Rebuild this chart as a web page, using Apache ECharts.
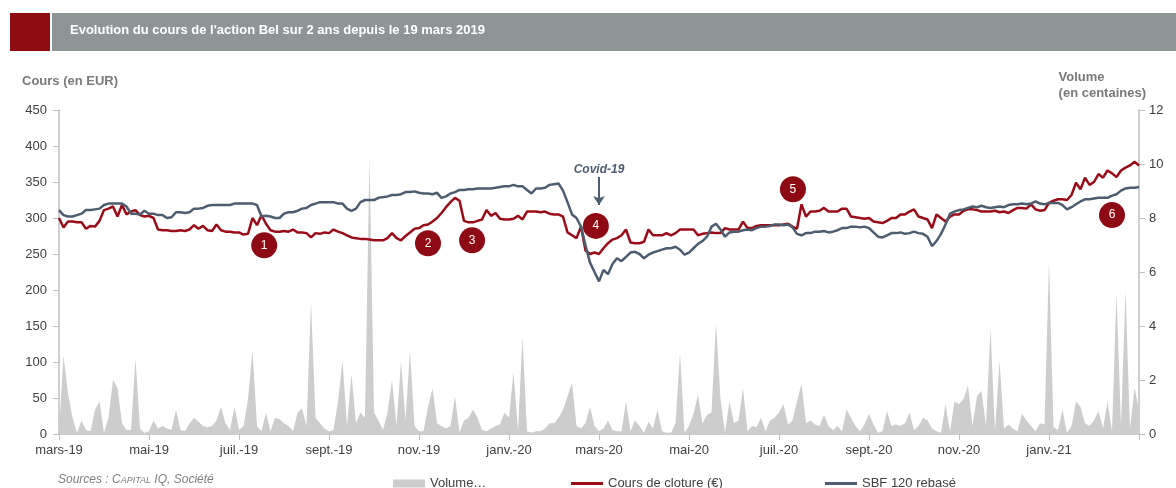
<!DOCTYPE html>
<html lang="fr">
  <head>
    <meta charset="UTF-8" />
    <title>Bel - cours</title>
    <script src="https://cdn.jsdelivr.net/npm/echarts@6/dist/echarts.min.js"></script>
    <style>
      body { margin: 0; background: #fff; }
    </style>
  </head>
  <body>
    <div id="main" style="width: 1176px; height: 488px"></div>
    <script type="text/javascript">
      // x = période (10 points par mois, 19 mars 2019 -> 19 mars 2021)
      const tickLabels = ["mars-19", "mai-19", "juil.-19", "sept.-19", "nov.-19", "janv.-20",
        "mars-20", "mai-20", "juil.-20", "sept.-20", "nov.-20", "janv.-21"];

      // Cours de cloture (€)
      const cours = [
        300,287,295,295,294,294,285,289,288,296, 311,313,316,302,318,305,309,311,304,302,
        303,300,284,283,283,282,282,283,282,284, 290,285,289,283,282,291,283,281,281,280,
        280,277,278,300,290,304,292,283,281,281, 282,281,284,280,280,279,273,279,278,280,
        279,284,281,279,276,273,272,271,271,270, 269,269,269,272,279,272,269,275,280,285,
        286,290,291,295,300,307,315,322,328,324, 296,294,294,296,298,311,303,307,299,298,
        298,299,303,298,309,309,309,308,309,306, 305,305,302,280,276,272,288,255,250,252,
        250,258,265,270,272,276,284,266,265,265, 267,284,276,276,276,279,276,279,284,284,
        284,284,276,278,279,280,279,279,286,284, 284,284,295,286,286,289,290,290,290,290,
        290,291,292,288,285,319,302,309,309,310, 314,309,309,309,313,313,302,301,300,299,
        300,295,294,293,296,300,300,305,305,309, 312,302,300,298,286,305,300,295,302,305,
        305,310,312,312,311,309,309,309,310,308, 309,307,311,314,314,313,319,312,310,311,
        321,324,326,326,325,332,349,340,356,346, 350,361,356,366,362,357,366,370,373,378,
        373
      ];

      // SBF 120 rebasé
      const sbf = [
        311,304,302,302,304,306,311,311,312,313, 318,320,320,320,320,316,306,306,305,310,
        306,306,304,304,300,301,308,308,307,308, 313,313,314,317,318,318,318,318,318,320,
        320,320,320,320,318,302,303,302,300,300, 306,308,308,310,313,314,318,320,322,322,
        322,322,320,320,313,310,313,322,325,325, 325,328,329,330,332,332,333,336,336,337,
        335,334,334,333,335,328,330,334,336,339, 339,340,340,341,341,341,341,342,343,344,
        344,346,344,344,339,334,341,341,342,346, 347,348,338,322,305,300,288,262,238,225,
        212,228,222,236,244,240,246,252,253,250, 244,249,252,254,256,258,258,260,256,249,
        252,258,264,268,274,288,292,284,274,280, 281,281,283,284,283,286,288,288,289,291,
        291,290,291,287,278,276,279,279,281,281, 282,280,281,283,286,286,288,288,287,288,
        286,280,274,273,276,279,279,280,278,279, 281,279,278,274,261,268,278,291,306,309,
        311,312,314,316,315,317,315,314,315,316, 315,318,319,319,320,319,320,323,320,319,
        321,321,321,318,312,315,319,323,326,326, 327,328,328,328,331,333,338,341,342,342,
        343
      ];

      // Volume (en centaines)
      const volume = [
        0.1,2.9,1.5,0.6,0.05,0.5,0.15,0.1,0.9,1.2, 0.05,0.6,2.0,1.7,0.4,0.15,0.15,2.8,0.2,0.05,
        0.1,0.5,0.2,0.3,0.2,0.15,0.9,0.15,0.1,0.4, 0.6,0.45,0.3,0.25,0.3,0.5,1.0,0.4,0.15,1.0,
        0.15,0.3,1.3,3.1,0.3,0.1,0.8,0.1,0.6,0.55, 0.4,0.3,0.1,0.8,0.95,0.3,4.9,0.6,0.4,0.2,
        0.1,0.15,1.2,2.7,0.3,2.2,0.4,0.8,0.6,10.3, 0.8,0.5,0.15,0.8,2.0,0.3,2.7,0.5,3.1,0.3,
        0.1,0.1,1.0,1.7,0.4,0.3,0.2,0.3,1.4,0.05, 0.5,0.6,0.9,0.6,0.15,0.1,0.2,0.3,0.35,0.8,
        0.6,2.3,0.1,3.6,0.1,0.05,0.1,0.1,0.2,0.4, 0.4,0.6,0.9,1.4,1.9,0.3,0.2,0.4,1.0,0.3,
        0.1,0.2,0.5,0.15,0.1,0.1,1.2,0.1,0.5,0.3, 0.05,0.45,0.2,0.9,0.1,0.05,0.05,0.4,3.0,0.05,
        0.3,0.75,1.45,0.4,0.7,0.8,4.1,1.3,0.05,1.2, 0.4,0.5,1.7,0.1,0.3,0.25,0.6,0.1,0.5,0.6,
        0.8,1.1,0.35,0.5,1.2,1.85,0.4,0.5,0.35,0.3, 0.7,0.3,0.15,0.3,0.1,0.9,0.6,0.3,0.1,0.35,
        0.75,0.35,0.05,0.1,0.85,0.3,0.35,0.3,0.4,0.8, 0.15,0.3,0.6,0.5,0.2,0.1,0.05,1.1,0.1,1.2,
        1.1,1.3,1.8,0.3,1.4,1.6,0.3,3.9,0.1,2.7, 0.2,0.35,0.2,0.1,0.75,0.5,0.3,0.1,0.4,0.35,
        6.4,0.25,0.15,0.9,0.05,0.3,1.2,1.0,0.4,0.3, 0.5,0.85,0.2,1.2,0.1,5.2,0.3,5.3,0.2,1.7,
        0.9
      ];

      // évènements numérotés : [période, cours]
      const events = [[45.6, 262], [82, 265], [91.8, 269], [119.3, 289], [163.1, 340], [234, 304]];

      const font = "Liberation Sans, Arial, sans-serif";
      const red = "#9a0c17";
      const slate = "#4e5c6f";
      const pair = (arr) => arr.map((v, i) => [i, v]);

      let myChart = echarts.init(document.getElementById("main"));

      let options = {
        animation: false,
        textStyle: { fontFamily: font },
        grid: { left: 59, right: 37, top: 110, bottom: 54 },
        graphic: [
          { type: "rect", shape: { x: 10, y: 13, width: 40, height: 38 }, style: { fill: "#900c13" } },
          { type: "rect", shape: { x: 52, y: 13, width: 1124, height: 38 }, style: { fill: "#8f9597" } },
          {
            type: "text", left: 70, top: 24,
            style: { text: "Evolution du cours de l'action Bel sur 2 ans depuis le 19 mars 2019",
              fill: "#fff", font: "bold 13px " + font }
          },
          {
            type: "text", left: 22, top: 75,
            style: { text: "Cours (en EUR)", fill: "#7a7a7a", font: "bold 13px " + font }
          },
          {
            type: "text", right: 30, top: 69,
            style: { text: "Volume\n(en centaines)", fill: "#7a7a7a", font: "bold 13px " + font,
              align: "right", lineHeight: 16 }
          },
          {
            type: "text", left: 58, top: 474,
            style: {
              text: "{a|Sources : C}{b|APITAL}{a| IQ, Société}",
              rich: {
                a: { fontSize: 12, fontStyle: "italic", fill: "#7f7f7f", fontFamily: font },
                b: { fontSize: 9, fontStyle: "italic", fill: "#7f7f7f", fontFamily: font }
              }
            }
          }
        ],
        legend: [
          { data: [{ name: "Volume…", icon: "rect" }], left: 388, top: 472, itemWidth: 32, itemHeight: 8,
            textStyle: { fontSize: 13, color: "#404040" } },
          { data: [{ name: "Cours de cloture (€)", icon: "rect" }], left: 566, top: 472, itemWidth: 32, itemHeight: 3,
            textStyle: { fontSize: 13, color: "#404040" } },
          { data: [{ name: "SBF 120 rebasé", icon: "rect" }], left: 820, top: 472, itemWidth: 32, itemHeight: 3,
            textStyle: { fontSize: 13, color: "#404040" } }
        ],
        xAxis: {
          type: "value", min: 0, max: 240, interval: 20,
          axisLine: { lineStyle: { color: "#bfbfbf", width: 1.5 } },
          axisTick: { length: 6, lineStyle: { color: "#bfbfbf" } },
          splitLine: { show: false },
          axisLabel: {
            fontSize: 13, color: "#404040", margin: 10,
            formatter: (v) => tickLabels[v / 20] || ""
          }
        },
        yAxis: [
          {
            type: "value", min: 0, max: 450, interval: 50,
            axisLine: { show: true, lineStyle: { color: "#bfbfbf", width: 1.5 } },
            axisTick: { show: true, length: 6, lineStyle: { color: "#bfbfbf" } },
            splitLine: { show: false },
            axisLabel: { fontSize: 13, color: "#404040", margin: 12 }
          },
          {
            type: "value", min: 0, max: 12, interval: 2,
            axisLine: { show: true, lineStyle: { color: "#bfbfbf", width: 1.5 } },
            axisTick: { show: true, length: 6, lineStyle: { color: "#bfbfbf" } },
            splitLine: { show: false },
            axisLabel: { fontSize: 13, color: "#404040", margin: 10 }
          }
        ],
        series: [
          {
            name: "Volume…", type: "line", yAxisIndex: 1, data: pair(volume),
            showSymbol: false, color: "#cdcdcd",
            lineStyle: { width: 0 },
            areaStyle: { color: "#cdcdcd", opacity: 1 }
          },
          {
            name: "Cours de cloture (€)", type: "line", data: pair(cours),
            showSymbol: false, color: red, lineStyle: { width: 2.5, color: red },
            markPoint: {
              symbol: "circle", symbolSize: 26,
              itemStyle: { color: "#8e0a14" },
              label: { color: "#fff", fontSize: 12, fontFamily: font },
              data: events.map((c, k) => ({ coord: c, value: k + 1 }))
            }
          },
          {
            name: "SBF 120 rebasé", type: "line", data: pair(sbf),
            showSymbol: false, color: slate, lineStyle: { width: 2.5, color: slate },
            markPoint: {
              symbol: "rect", symbolSize: [70, 16],
              itemStyle: { color: "rgba(255,255,255,0)" },
              label: { show: true, position: "inside", formatter: "Covid-19", color: slate,
                fontSize: 12, fontWeight: "bold", fontStyle: "italic", fontFamily: font },
              data: [{ coord: [120, 367], value: 0 }]
            },
            markLine: {
              silent: true, symbol: ["none", "arrow"], symbolSize: 9,
              label: { show: false },
              lineStyle: { color: slate, width: 2, type: "solid" },
              data: [[{ coord: [120, 357] }, { coord: [120, 318] }]]
            }
          }
        ]
      };

      myChart.setOption(options);
    </script>
  </body>
</html>
